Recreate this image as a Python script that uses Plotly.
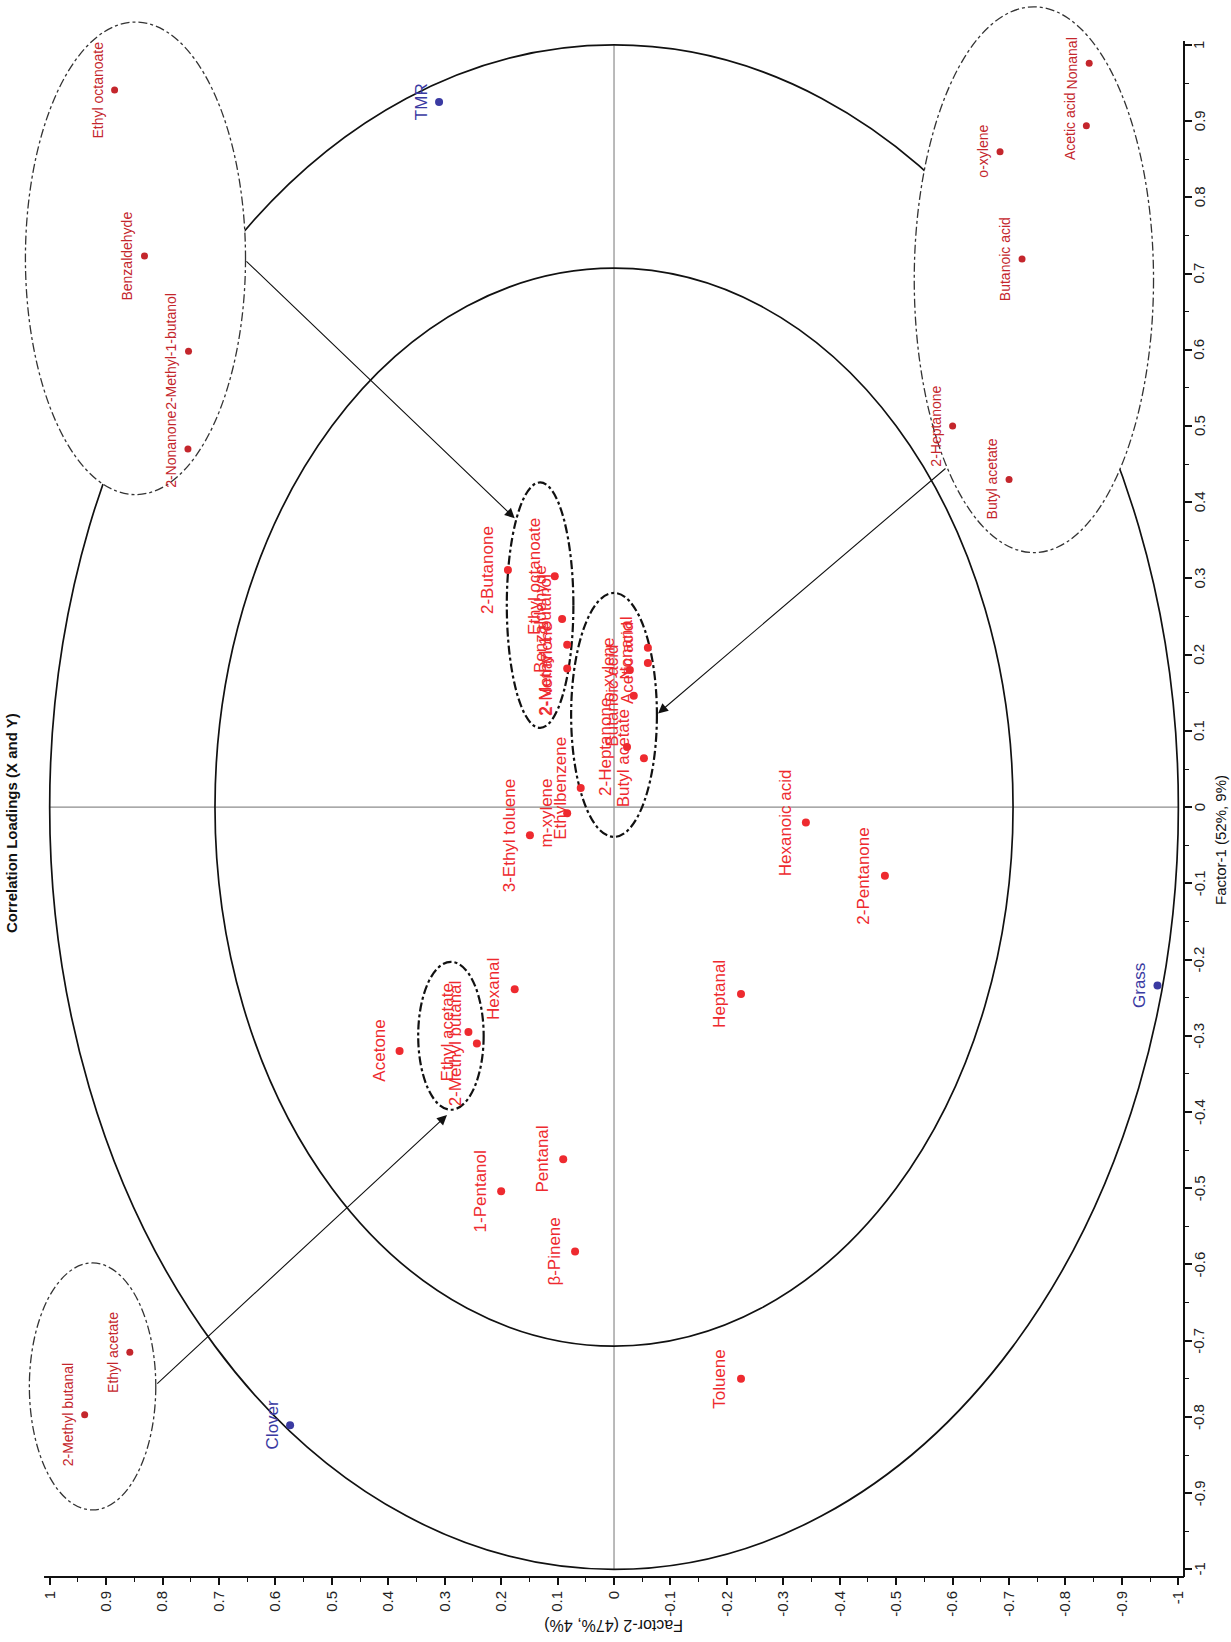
import plotly.graph_objects as go

# ---------------- data (Factor-2 = horizontal, Factor-1 = vertical; chart is rotated) ----
var_names = ["2-Butanone", "Ethyl octanoate", "Benzaldehyde", "2-Methyl-1-butanol", "2-Nonanone",
             "Nonanal", "Acetic acid", "o-xylene", "Butanoic acid", "2-Heptanone", "Butyl acetate",
             "Ethylbenzene", "m-xylene", "3-Ethyl toluene", "Hexanoic acid", "2-Pentanone",
             "Hexanal", "Heptanal", "Ethyl acetate", "2-Methyl butanal", "Acetone",
             "1-Pentanol", "Pentanal", "β-Pinene", "Toluene"]
var_f2 = [0.188, 0.105, 0.092, 0.083, 0.083,
          -0.060, -0.060, -0.028, -0.035, -0.023, -0.053,
          0.059, 0.083, 0.149, -0.340, -0.480,
          0.176, -0.225, 0.258, 0.243, 0.380,
          0.200, 0.090, 0.069, -0.225]
var_f1 = [0.311, 0.303, 0.247, 0.213, 0.182,
          0.209, 0.189, 0.180, 0.146, 0.079, 0.064,
          0.025, -0.008, -0.037, -0.020, -0.090,
          -0.239, -0.245, -0.295, -0.310, -0.320,
          -0.504, -0.462, -0.583, -0.750]

sample_names = ["TMR", "Clover", "Grass"]
sample_f2 = [0.310, 0.574, -0.963]
sample_f1 = [0.925, -0.811, -0.234]

# magnified call-out groups (drawn at their picture positions)
inset_names = ["Ethyl octanoate", "Benzaldehyde", "2-Methyl-1-butanol", "2-Nonanone",
               "Nonanal", "Acetic acid", "o-xylene", "Butanoic acid", "2-Heptanone", "Butyl acetate",
               "Ethyl acetate", "2-Methyl butanal"]
inset_f2 = [0.885, 0.832, 0.754, 0.755,
            -0.842, -0.837, -0.684, -0.723, -0.600, -0.700,
            0.858, 0.938]
inset_f1 = [0.941, 0.723, 0.598, 0.470,
            0.976, 0.894, 0.860, 0.719, 0.500, 0.430,
            -0.715, -0.797]

# correlation circles (100 % and 50 % explained variance)
circle_r = [1.0, 0.7071]

# call-out ellipses: centre and half-axes
big_ell_cx = [0.848, -0.744, 0.924]
big_ell_cy = [0.720, 0.692, -0.760]
big_ell_rx = [0.195, 0.212, 0.112]
big_ell_ry = [0.310, 0.358, 0.162]
small_ell_cx = [0.131, 0.000, 0.289]
small_ell_cy = [0.265, 0.121, -0.300]
small_ell_rx = [0.059, 0.076, 0.058]
small_ell_ry = [0.161, 0.160, 0.097]

# arrows: from call-out ellipse to cluster
arrow_from_x = [0.654, -0.590, 0.812]
arrow_from_y = [0.718, 0.446, -0.758]
arrow_to_x = [0.176, -0.078, 0.296]
arrow_to_y = [0.379, 0.123, -0.404]

tick_vals = [1.0, 0.9, 0.8, 0.7, 0.6, 0.5, 0.4, 0.3, 0.2, 0.1, 0.0,
             -0.1, -0.2, -0.3, -0.4, -0.5, -0.6, -0.7, -0.8, -0.9, -1.0]
tick_text = ["1", "0.9", "0.8", "0.7", "0.6", "0.5", "0.4", "0.3", "0.2", "0.1", "0",
             "-0.1", "-0.2", "-0.3", "-0.4", "-0.5", "-0.6", "-0.7", "-0.8", "-0.9", "-1"]
minor_vals = [0.95, 0.85, 0.75, 0.65, 0.55, 0.45, 0.35, 0.25, 0.15, 0.05,
              -0.05, -0.15, -0.25, -0.35, -0.45, -0.55, -0.65, -0.75, -0.85, -0.95]

# ---------------- layout geometry ----------------
W, H = 1231, 1642
ML, MR, MT, MB = 13, 47, 3, 65
XR = [1.065, -1.01]
YR = [-1.01, 1.055]
PW, PH = W - ML - MR, H - MT - MB


def px(xp, yp):
    return (xp - ML) / PW, (H - MB - yp) / PH


RED = "#ee2a2f"
DRED = "#c4262c"
BLUE = "#3a3aa2"
FONT = "Liberation Sans, Arial, sans-serif"

fig = go.Figure()

fig.add_trace(go.Scatter(x=var_f2, y=var_f1, mode="markers", cliponaxis=False,
                         marker=dict(color=RED, size=8), hoverinfo="skip", showlegend=False))
fig.add_trace(go.Scatter(x=inset_f2, y=inset_f1, mode="markers", cliponaxis=False,
                         marker=dict(color=DRED, size=7), hoverinfo="skip", showlegend=False))
fig.add_trace(go.Scatter(x=sample_f2, y=sample_f1, mode="markers", cliponaxis=False,
                         marker=dict(color=BLUE, size=8), hoverinfo="skip", showlegend=False))

shapes = []
# centre lines
shapes.append(dict(type="line", xref="x", yref="y", x0=1, x1=-1, y0=0, y1=0,
                   line=dict(color="#8c8c8c", width=1.2), layer="below"))
shapes.append(dict(type="line", xref="x", yref="y", x0=0, x1=0, y0=-1, y1=1,
                   line=dict(color="#8c8c8c", width=1.2), layer="below"))
for r in circle_r:
    shapes.append(dict(type="circle", xref="x", yref="y", x0=-r, x1=r, y0=-r, y1=r,
                       line=dict(color="#111111", width=1.7), layer="below"))
for cx, cy, rx, ry in zip(big_ell_cx, big_ell_cy, big_ell_rx, big_ell_ry):
    shapes.append(dict(type="circle", xref="x", yref="y", x0=cx - rx, x1=cx + rx,
                       y0=cy - ry, y1=cy + ry, fillcolor="white",
                       line=dict(color="#333333", width=1.3, dash="dashdot"), layer="below"))
for cx, cy, rx, ry in zip(small_ell_cx, small_ell_cy, small_ell_rx, small_ell_ry):
    shapes.append(dict(type="circle", xref="x", yref="y", x0=cx - rx, x1=cx + rx,
                       y0=cy - ry, y1=cy + ry,
                       line=dict(color="#111111", width=2.2, dash="dashdot"), layer="below"))
# axis lines
shapes.append(dict(type="line", xref="x", yref="paper", x0=1.01, x1=-1.01, y0=0, y1=0,
                   line=dict(color="#111111", width=2)))
shapes.append(dict(type="line", xref="paper", yref="y", x0=1, x1=1, y0=-1.01, y1=1.005,
                   line=dict(color="#111111", width=2)))

ann = []
for n, x, y in zip(var_names, var_f2, var_f1):
    ann.append(dict(x=x, y=y, xref="x", yref="y", text=n, showarrow=False, textangle=-90,
                    xanchor="center", yanchor="middle", xshift=-21,
                    font=dict(family=FONT, size=17, color=RED)))
for n, x, y in zip(inset_names, inset_f2, inset_f1):
    ann.append(dict(x=x, y=y, xref="x", yref="y", text=n, showarrow=False, textangle=-90,
                    xanchor="center", yanchor="middle", xshift=-17,
                    font=dict(family="Liberation Sans Narrow, " + FONT, size=14, color=DRED)))
for n, x, y in zip(sample_names, sample_f2, sample_f1):
    ann.append(dict(x=x, y=y, xref="x", yref="y", text=n, showarrow=False, textangle=-90,
                    xanchor="center", yanchor="middle", xshift=-18,
                    font=dict(family=FONT, size=17, color=BLUE)))
for x0, y0, x1, y1 in zip(arrow_from_x, arrow_from_y, arrow_to_x, arrow_to_y):
    ann.append(dict(x=x1, y=y1, ax=x0, ay=y0, xref="x", yref="y", axref="x", ayref="y",
                    text="", showarrow=True, arrowhead=2, arrowsize=1.8, arrowwidth=1.1,
                    arrowcolor="#111111", standoff=0))

# right-axis (Factor-1) tick labels, placed close to the axis like the reference
lab_x, _ = px(1199, 0)
for v, t in zip(tick_vals, tick_text):
    ann.append(dict(x=lab_x, y=v, xref="paper", yref="y", text=t, showarrow=False,
                    textangle=-90, xanchor="center", yanchor="middle",
                    font=dict(family=FONT, size=15, color="#222222")))

tx, ty = px(11, 823)
ann.append(dict(x=tx, y=ty, xref="paper", yref="paper", text="<b>Correlation Loadings (X and Y)</b>",
                showarrow=False, textangle=-90, xanchor="center", yanchor="middle",
                font=dict(family=FONT, size=15, color="#111111")))
fx, fy = px(1220, 840)
ann.append(dict(x=fx, y=fy, xref="paper", yref="paper", text="Factor-1 (52%, 9%)",
                showarrow=False, textangle=-90, xanchor="center", yanchor="middle",
                font=dict(family=FONT, size=15, color="#111111")))
gx, gy = px(614, 1626)
ann.append(dict(x=gx, y=gy, xref="paper", yref="paper", text="Factor-2 (47%, 4%)",
                showarrow=False, textangle=180, xanchor="center", yanchor="middle",
                font=dict(family=FONT, size=16, color="#111111")))

axis_common = dict(tickmode="array", tickvals=tick_vals, ticktext=tick_text, tickangle=-90,
                   ticks="outside", ticklen=7, tickwidth=1.5, tickcolor="#111111",
                   showgrid=False, zeroline=False, showline=False,
                   tickfont=dict(family=FONT, size=15, color="#222222"),
                   minor=dict(tickmode="array", tickvals=minor_vals, ticks="outside",
                              ticklen=4, tickwidth=1.3, tickcolor="#111111", showgrid=False))

fig.update_layout(
    width=W, height=H, margin=dict(l=ML, r=MR, t=MT, b=MB),
    paper_bgcolor="white", plot_bgcolor="white",
    xaxis=dict(range=XR, **axis_common),
    yaxis=dict(range=YR, side="right", showticklabels=False,
               **{k: v for k, v in axis_common.items() if k not in ("tickfont",)}),
    shapes=shapes, annotations=ann, showlegend=False,
)

# remove the default page margin so the 1231x1642 figure fills the window exactly
fig.write_html("out.html", config={"displayModeBar": False},
               post_script="document.body.style.margin='0';document.body.style.overflow='hidden';")
